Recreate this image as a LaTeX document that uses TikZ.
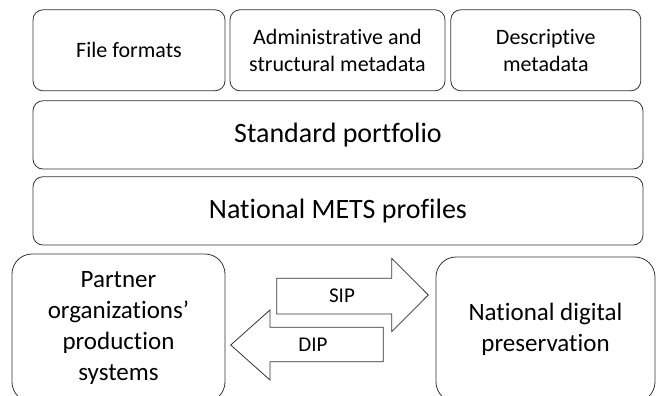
\documentclass[tikz,border=0pt]{standalone}
\usepackage{fontspec}
\setmainfont{Carlito}[RawFeature=-liga]
\usetikzlibrary{calc}

\begin{document}
\begin{tikzpicture}[x=1pt,y=-1pt,line width=0.8pt,
    box/.style={draw=black!80,rounded corners=10pt,align=center,inner sep=0pt},
    bigbox/.style={draw=black!80,rounded corners=20pt,align=center,inner sep=0pt},
    toptext/.style={font=\fontsize{22}{27}\selectfont},
    midtext/.style={font=\fontsize{28}{33}\selectfont},
    lowtext/.style={font=\fontsize{25}{31}\selectfont},
    arrowtext/.style={font=\fontsize{21}{25}\selectfont,inner sep=0pt}]
  % Constants
  \pgfmathsetmacro\l{33}
  \pgfmathsetmacro\r{643}
  \pgfmathsetmacro\w{\r-\l}
  % Boundary
  \useasboundingbox (0,0) rectangle (657,396);
  \clip (0,0) rectangle (657,396);
  % Top boxes
  \node[box,toptext,minimum width=192,minimum height=81] (ff) at (129,50.3) {File formats};
  \node[box,toptext,minimum width=215,minimum height=81] (asm) at (337.5,50.3) {Administrative and\\structural metadata};
  \node[box,toptext,minimum width=190,minimum height=81] (desc) at (545.8,50.3) {Descriptive\\metadata};
  % Layers
  \node[box,midtext,minimum width=\w,minimum height=68.3] (std) at ({(\l+\r)/2},134.9) {Standard portfolio};
  \node[box,midtext,minimum width=\w,minimum height=68.3] (mets) at ({(\l+\r)/2},210.9) {National METS profiles};
  % Systems
  \node[bigbox,lowtext,minimum width=213,minimum height=148] (partner) at (118.5,328) {Partner\\organizations’\\production\\systems};
  \node[bigbox,lowtext,minimum width=219,minimum height=145] (nat) at (545.5,329.5) {National digital\\preservation};
  % Block arrows
  \draw[black!80] (276.7,278.3) -- (391.7,278.3) -- (391.7,258.3) -- (428.3,295) -- (391.7,331.7) -- (391.7,314) -- (276.7,314) -- cycle;
  \draw[black!80] (383.3,327.3) -- (270,327.3) -- (270,310) -- (230.7,345) -- (270,380) -- (270,361.7) -- (383.3,361.7) -- cycle;
  \node[arrowtext] (sip) at (342,296) {SIP};
  \node[arrowtext] (dip) at (313,344.5) {DIP};
\end{tikzpicture}
\end{document}
